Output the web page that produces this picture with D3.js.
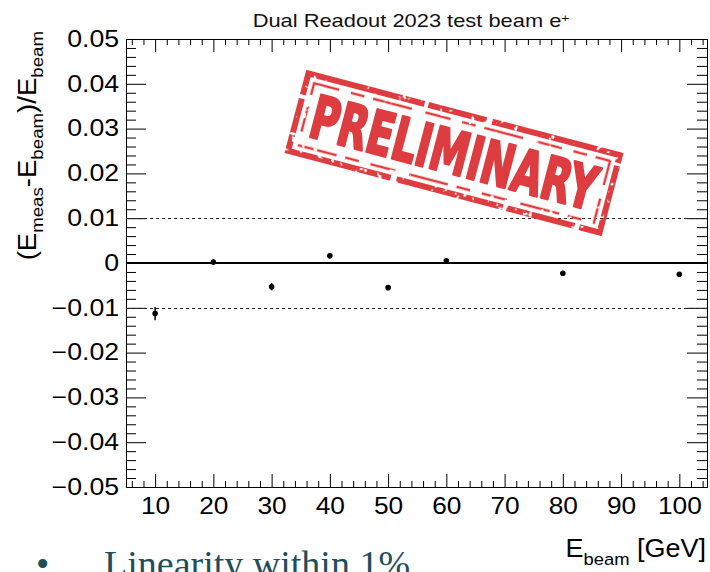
<!DOCTYPE html>
<html>
<head>
<meta charset="utf-8">
<script src="https://cdn.jsdelivr.net/npm/d3@7"></script>
<style>
  html, body { margin: 0; padding: 0; background: #fff; }
  svg { display: block; }
</style>
</head>
<body>
<svg id="chart" width="710" height="572"></svg>
<script>
// Beam energies [GeV] and relative energy residuals (E_meas - E_beam)/E_beam
const energies  = [10, 20, 30, 40, 50, 60, 80, 100];
const residuals = [-0.0113, 0.0002, -0.0053, 0.0016, -0.0055, 0.0005, -0.0023, -0.0025];
const errors    = [0.0015, 0.0006, 0.0008, 0.0004, 0.0004, 0.0004, 0.0003, 0.0003];

// Axis ticks
const xTickValues = [10, 20, 30, 40, 50, 60, 70, 80, 90, 100];
const yTickValues = [-0.05, -0.04, -0.03, -0.02, -0.01, 0, 0.01, 0.02, 0.03, 0.04, 0.05];
const bandLimits  = [-0.01, 0.01];

const svg = d3.select("#chart");
const frame = { left: 126, right: 707, top: 39, bottom: 487 };
const font = "'Liberation Sans', Arial, Helvetica, sans-serif";

const x = d3.scaleLinear().domain([5, 104.75]).range([frame.left, frame.right]);
const y = d3.scaleLinear().domain([-0.05, 0.05]).range([frame.bottom, frame.top]);

const xMinor = d3.range(6, 105, 2).filter(v => v % 10 !== 0);
const yMinor = d3.range(-48, 49, 2).filter(v => v % 10 !== 0).map(v => v / 1000);

function addAxis(axis, tx, ty) {
  return svg.append("g")
    .attr("transform", `translate(${tx},${ty})`)
    .attr("color", "#000")
    .call(axis)
    .call(g => g.select(".domain").remove());
}

// Ticks point inward on all four sides of the frame
const yFmt = d => d === 0 ? "0" : d3.format(".2f")(d);
const left = addAxis(d3.axisLeft(y).tickValues(yTickValues).tickSize(-20).tickPadding(6).tickFormat(yFmt), frame.left, 0);
addAxis(d3.axisLeft(y).tickValues(yMinor).tickSize(-10).tickFormat(""), frame.left, 0);
addAxis(d3.axisRight(y).tickValues(yTickValues).tickSize(-20).tickFormat(""), frame.right, 0);
addAxis(d3.axisRight(y).tickValues(yMinor).tickSize(-10).tickFormat(""), frame.right, 0);
const bottom = addAxis(d3.axisBottom(x).tickValues(xTickValues).tickSize(-13).tickPadding(10).tickFormat(d3.format("d")), 0, frame.bottom);
addAxis(d3.axisBottom(x).tickValues(xMinor).tickSize(-6).tickFormat(""), 0, frame.bottom);
addAxis(d3.axisTop(x).tickValues(xTickValues).tickSize(-13).tickFormat(""), 0, frame.top);
addAxis(d3.axisTop(x).tickValues(xMinor).tickSize(-6).tickFormat(""), 0, frame.top);

left.attr("font-family", font).attr("font-size", 23);
left.selectAll("text").attr("transform", "scale(1.16,1)");
bottom.attr("font-family", font).attr("font-size", 23.5);
bottom.selectAll("text").attr("transform", "scale(1.12,1)");

// Frame
svg.append("rect")
  .attr("x", frame.left + 0.5).attr("y", frame.top + 0.5)
  .attr("width", frame.right - frame.left).attr("height", frame.bottom - frame.top)
  .attr("fill", "none").attr("stroke", "#000").attr("stroke-width", 1);

// ±1% band and zero line
svg.selectAll("line.band").data(bandLimits).join("line")
  .attr("class", "band")
  .attr("x1", frame.left).attr("x2", frame.right)
  .attr("y1", d => Math.round(y(d)) + 0.5).attr("y2", d => Math.round(y(d)) + 0.5)
  .attr("stroke", "#222").attr("stroke-width", 1).attr("stroke-dasharray", "3,3");

svg.append("line")
  .attr("x1", frame.left).attr("x2", frame.right)
  .attr("y1", y(0)).attr("y2", y(0))
  .attr("stroke", "#000").attr("stroke-width", 2);

// Data points with vertical error bars
const pts = energies.map((e, i) => ({ e, r: residuals[i], err: errors[i] }));
svg.selectAll("line.err").data(pts).join("line")
  .attr("class", "err")
  .attr("x1", d => x(d.e)).attr("x2", d => x(d.e))
  .attr("y1", d => y(d.r - d.err)).attr("y2", d => y(d.r + d.err))
  .attr("stroke", "#000").attr("stroke-width", 1.5);
svg.selectAll("circle.pt").data(pts).join("circle")
  .attr("class", "pt")
  .attr("cx", d => x(d.e)).attr("cy", d => y(d.r))
  .attr("r", 2.8).attr("fill", "#000");

// Title
const title = svg.append("text")
  .attr("transform", "translate(411,27) scale(1.25,1)")
  .attr("text-anchor", "middle")
  .attr("font-family", font).attr("font-size", 17.5).attr("fill", "#111");
title.append("tspan").text("Dual Readout 2023 test beam e");
title.append("tspan").attr("dy", "-0.5em").attr("font-size", 11).text("+");

// Y axis title
const yTitle = svg.append("text")
  .attr("transform", "translate(36,31) rotate(-90) scale(1.1,1)")
  .attr("text-anchor", "end")
  .attr("font-family", font).attr("font-size", 25).attr("fill", "#000");
yTitle.append("tspan").text("(E");
yTitle.append("tspan").attr("dy", 7).attr("font-size", 17).text("meas");
yTitle.append("tspan").attr("dy", -7).text("-E");
yTitle.append("tspan").attr("dy", 7).attr("font-size", 17).text("beam");
yTitle.append("tspan").attr("dy", -7).text(")/E");
yTitle.append("tspan").attr("dy", 7).attr("font-size", 17).text("beam");

// X axis title
const xTitle = svg.append("text")
  .attr("transform", "translate(706,557) scale(1.08,1)")
  .attr("text-anchor", "end")
  .attr("font-family", font).attr("font-size", 25).attr("fill", "#000");
xTitle.append("tspan").text("E");
xTitle.append("tspan").attr("dy", 8).attr("font-size", 17).text("beam");
xTitle.append("tspan").attr("dy", -8).text(" [GeV]");

// Slide bullet below the plot
const note = svg.append("text")
  .attr("x", 36).attr("y", 577)
  .attr("font-family", "'Liberation Serif', 'DejaVu Serif', serif")
  .attr("font-size", 38).attr("fill", "#1f4e5b");
note.append("tspan").text("•");
note.append("tspan").attr("x", 104).text("Linearity within 1%");

// "PRELIMINARY" stamp: worn border via a thresholded noise mask
const defs = svg.append("defs");
const f = defs.append("filter").attr("id", "wornBorder")
  .attr("x", "-10%").attr("y", "-20%").attr("width", "120%").attr("height", "140%");
f.append("feTurbulence").attr("type", "fractalNoise").attr("baseFrequency", 0.16)
  .attr("numOctaves", 2).attr("seed", 11).attr("result", "noise");
f.append("feColorMatrix").attr("in", "noise").attr("type", "matrix")
  .attr("values", "0 0 0 0 0  0 0 0 0 0  0 0 0 0 0  0 0 0 -14 10.2").attr("result", "mask");
f.append("feComposite").attr("in", "SourceGraphic").attr("in2", "mask").attr("operator", "in");

const red = "#dd3c40";
const stamp = svg.append("g").attr("transform", "translate(454,153) rotate(14.7)");
const border = stamp.append("g").attr("filter", "url(#wornBorder)");
border.append("rect")
  .attr("x", -161).attr("y", -40).attr("width", 322).attr("height", 80)
  .attr("fill", "none").attr("stroke", red).attr("stroke-width", 6)
  .attr("stroke-dasharray", "120 4 60 6 140 3 90 5 70 4 110 6 160 4");
border.append("rect")
  .attr("x", -153).attr("y", -32).attr("width", 306).attr("height", 64)
  .attr("fill", "none").attr("stroke", red).attr("stroke-width", 2.5)
  .attr("stroke-dasharray", "26 12 14 9 40 14");

const stampText = stamp.append("text")
  .attr("x", 0).attr("y", 21)
  .attr("text-anchor", "middle")
  .attr("font-family", "'DejaVu Sans Condensed', 'Liberation Sans Narrow', sans-serif")
  .attr("font-weight", "bold").attr("font-size", 60)
  .attr("fill", red).attr("stroke", red).attr("stroke-width", 2.5).attr("stroke-linejoin", "round")
  .text("PRELIMINARY");
// squeeze the lettering horizontally so it fills the stamp box
const natural = stampText.node().getComputedTextLength();
stampText.attr("transform", `scale(${294 / natural},1)`);
</script>
</body>
</html>
